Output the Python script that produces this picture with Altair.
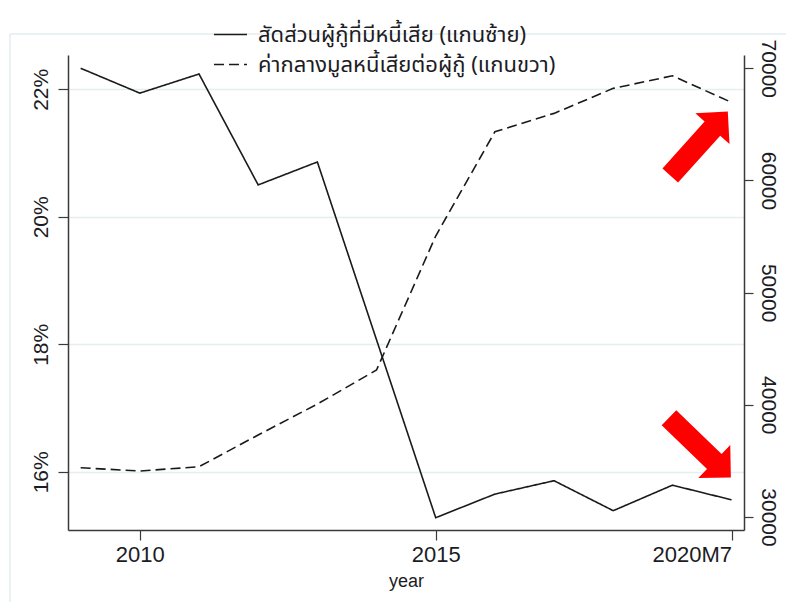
import altair as alt
import pandas as pd

# ---- data ----
periods = ["2009", "2010", "2011", "2012", "2013", "2014", "2015",
           "2016", "2017", "2018", "2019", "2020M7"]
npl_share_pct = [22.33, 21.94, 22.24, 20.50, 20.86, 18.07, 15.28,
                 15.65, 15.86, 15.39, 15.79, 15.56]
median_npl = [34390, 34100, 34480, 37310, 40070, 43100, 55050,
              64340, 65980, 68210, 69330, 66960]
series_names = ["สัดส่วนผู้กู้ที่มีหนี้เสีย (แกนซ้าย)",
                "ค่ากลางมูลหนี้เสียต่อผู้กู้ (แกนขวา)"]
x_tick_positions = [1, 6, 11]          # 2010, 2015, 2020M7
left_ticks = [16, 18, 20, 22]
right_ticks = [30000, 40000, 50000, 60000, 70000]
left_domain = [15.087, 22.538]
right_domain = [28841, 71185]
x_domain = [-0.214, 11.21]

# red annotation arrows (position in data units, direction in degrees)
arrow_x = [10.45, 10.465]
arrow_y = [21.15, 16.38]
arrow_angle = [42, 134]

df = pd.DataFrame({
    "idx": list(range(len(periods))),
    "period": periods,
    "share": npl_share_pct,
    "median": median_npl,
})
df["s1"] = series_names[0]
df["s2"] = series_names[1]

arrows = pd.DataFrame({"ax": arrow_x, "ay": arrow_y, "angle": arrow_angle})

NUM_FONT = "Liberation Sans"
THAI_FONT = "Noto Sans Thai, Tahoma, Noto Sans, sans-serif"
AXIS_COLOR = "#3a3a3a"
TEXT_COLOR = "#1c1c24"
LINE_COLOR = "#1a1a1a"

label_expr = "[" + ",".join("'%s'" % p for p in periods) + "][datum.value]"

x_enc = alt.X(
    "idx:Q",
    scale=alt.Scale(domain=x_domain, nice=False, zero=False),
    axis=alt.Axis(
        values=x_tick_positions, labelExpr=label_expr, title="year",
        labelFont=NUM_FONT, labelFontSize=22, labelColor=TEXT_COLOR,
        labelPadding=4, labelFlush=15, tickSize=10, tickColor=AXIS_COLOR,
        tickWidth=1.2, domainColor=AXIS_COLOR, domainWidth=1.5, grid=False,
        titleFont=NUM_FONT, titleFontSize=18, titleFontWeight="normal",
        titleColor=TEXT_COLOR, titlePadding=7,
    ),
)

dash_scale = alt.Scale(domain=series_names, range=[[1, 0], [10, 5]])
legend = alt.Legend(
    title=None, orient="none", legendX=145, legendY=-38,
    symbolType="stroke", symbolSize=1089, symbolStrokeWidth=1.5,
    symbolStrokeColor=LINE_COLOR, labelFont=THAI_FONT, labelFontSize=22,
    labelColor=TEXT_COLOR, rowPadding=1, labelOffset=10, padding=0,
    labelLimit=0,
)

solid = alt.Chart(df).mark_line(color=LINE_COLOR, strokeWidth=1.6).encode(
    x=x_enc,
    y=alt.Y(
        "share:Q",
        scale=alt.Scale(domain=left_domain, nice=False, zero=False),
        axis=alt.Axis(
            orient="left", values=left_ticks, labelExpr="datum.value + '%'",
            labelAngle=270, labelAlign="center", labelBaseline="bottom",
            labelPadding=7, labelFont=NUM_FONT, labelFontSize=21,
            labelColor=TEXT_COLOR, tickSize=10, tickColor=AXIS_COLOR,
            tickWidth=1.2, domainColor=AXIS_COLOR, domainWidth=1.5,
            grid=True, gridColor="#e6efef", gridWidth=1.5, title=None,
        ),
    ),
    strokeDash=alt.StrokeDash("s1:N", scale=dash_scale, legend=legend),
)

arrow_path = ("M -0.244 1 L -0.244 -0.465 L -0.535 -0.465 L 0 -1 "
              "L 0.535 -0.465 L 0.244 -0.465 L 0.244 1 Z")
arrow_layer = alt.Chart(arrows).mark_point(
    shape=arrow_path, filled=True, color="#ff0000", opacity=1,
    size=7396, strokeWidth=0,
).encode(
    x=alt.X("ax:Q"),
    y=alt.Y("ay:Q"),
    angle=alt.Angle("angle:Q", scale=None),
)

dashed = alt.Chart(df).mark_line(color=LINE_COLOR, strokeWidth=1.6).encode(
    x=x_enc,
    y=alt.Y(
        "median:Q",
        scale=alt.Scale(domain=right_domain, nice=False, zero=False),
        axis=alt.Axis(
            orient="right", values=right_ticks, format="d",
            labelAngle=90, labelAlign="center", labelBaseline="bottom",
            labelPadding=4, labelFont=NUM_FONT, labelFontSize=21,
            labelColor=TEXT_COLOR, tickSize=9, tickColor=AXIS_COLOR,
            tickWidth=1.2, domainColor=AXIS_COLOR, domainWidth=1.5,
            grid=False, title=None,
        ),
    ),
    strokeDash=alt.StrokeDash("s2:N", scale=dash_scale, legend=legend),
)

frame_df = pd.DataFrame({"a": [0]})
frame_top = alt.Chart(frame_df).mark_rule(color="#e3edef", strokeWidth=1.5).encode(
    x=alt.value(-58), x2=alt.value(730), y=alt.value(-21)
)
frame_left = alt.Chart(frame_df).mark_rule(color="#e3edef", strokeWidth=1.5).encode(
    x=alt.value(-58), y=alt.value(-21), y2=alt.value(560)
)

left_group = alt.layer(frame_top, frame_left, solid, arrow_layer)
chart = alt.layer(left_group, dashed).resolve_scale(
    y="independent"
).properties(
    width=676, height=475,
    padding={"left": 60, "top": 47, "right": 42, "bottom": 72},
    autosize=alt.AutoSizeParams(type="none"),
    background="white",
).configure_view(stroke=None)

chart.save("out.html", embed_options={"renderer": "svg", "actions": False})
